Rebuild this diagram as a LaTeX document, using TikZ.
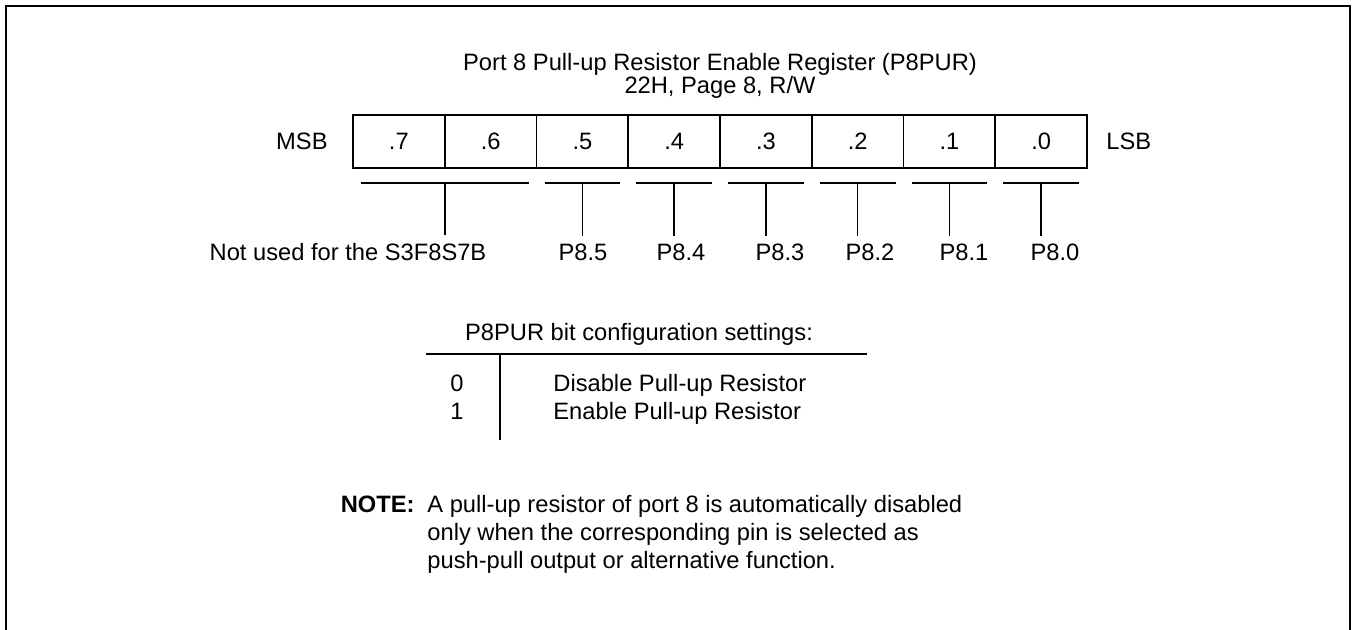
\documentclass[tikz,border=0pt]{standalone}
\usepackage{fontspec}
\setmainfont{Liberation Sans}
\usetikzlibrary{positioning}

\begin{document}
\begin{tikzpicture}[
  x=0.5pt, y=-0.5pt,
  font=\fontsize{11.85}{14}\selectfont,
  bitcell/.style={draw, line width=0.9pt, minimum width=45.875pt,
                  minimum height=26.5pt, inner sep=0pt, outer sep=0pt},
  lbl/.style={inner xsep=1pt, inner ysep=4pt, anchor=base},
  txt/.style={inner sep=0pt, anchor=base},
  lne/.style={line width=0.75pt},
  outerframe/.style={line width=1pt},
  node distance=0pt
]
  \useasboundingbox (0,0) rectangle (1352,630);
  \draw[outerframe] (6,632) -- (6,6.5) -- (1350,6.5) -- (1350,632);

  \node[txt] (ttl) at (720,71) {Port 8 Pull-up Resistor Enable Register (P8PUR)};
  \node[txt] (sub) at (720,94) {22H, Page 8, R/W};

  \node[bitcell] (b7) at (398.875,141.5) {.7};
  \node[bitcell, right=of b7] (b6) {.6};
  \node[bitcell, right=of b6] (b5) {.5};
  \node[bitcell, right=of b5] (b4) {.4};
  \node[bitcell, right=of b4] (b3) {.3};
  \node[bitcell, right=of b3] (b2) {.2};
  \node[bitcell, right=of b2] (b1) {.1};
  \node[bitcell, right=of b1] (b0) {.0};
  \node[left=12.5pt of b7, inner sep=0pt] (msb) {MSB};
  \node[right=9.5pt of b0, inner sep=0pt] (lsb) {LSB};

  \node[lbl] (nu) at (348,261) {Not used for the S3F8S7B};
  \node[lbl] (p5) at (583,261) {P8.5};
  \node[lbl] (p4) at (681,261) {P8.4};
  \node[lbl] (p3) at (780,261) {P8.3};
  \node[lbl] (p2) at (870,261) {P8.2};
  \node[lbl] (p1) at (964,261) {P8.1};
  \node[lbl] (p0) at (1055,261) {P8.0};

  \draw[lne] (b7.south west) ++(8,15) -- ++(167.5,0);
  \draw[lne] (b7.south east) ++(0,15) -- (nu.north -| b7.south east);
  \draw[lne] (b5.south west) ++(8,15) -- ++(75.75,0);
  \draw[lne] (b5.south) ++(0,15) -- (p5.north -| b5.south);
  \draw[lne] (b4.south west) ++(8,15) -- ++(75.75,0);
  \draw[lne] (b4.south) ++(0,15) -- (p4.north -| b4.south);
  \draw[lne] (b3.south west) ++(8,15) -- ++(75.75,0);
  \draw[lne] (b3.south) ++(0,15) -- (p3.north -| b3.south);
  \draw[lne] (b2.south west) ++(8,15) -- ++(75.75,0);
  \draw[lne] (b2.south) ++(0,15) -- (p2.north -| b2.south);
  \draw[lne] (b1.south west) ++(8,15) -- ++(75.75,0);
  \draw[lne] (b1.south) ++(0,15) -- (p1.north -| b1.south);
  \draw[lne] (b0.south west) ++(8,15) -- ++(75.75,0);
  \draw[lne] (b0.south) ++(0,15) -- (p0.north -| b0.south);

  % bit settings table
  \node[txt] (cfg) at (639,340) {P8PUR bit configuration settings:};
  \draw[lne] (426,354) -- (867,354);
  \draw[lne] (500,354) -- (500,440);
  \node[txt] (v0) at (457,391) {0};
  \node[txt] (v1) at (457,419) {1};
  \node[txt, anchor=base west] (d0) at (553,391) {Disable Pull-up Resistor};
  \node[txt, anchor=base west] (d1) at (553,419) {Enable Pull-up Resistor};

  \node[txt, anchor=base east, font=\fontsize{11.85}{14}\selectfont\bfseries] (note) at (415,512) {NOTE:};
  \node[txt, anchor=base west] (n1) at (427,512) {A pull-up resistor of port 8 is automatically disabled};
  \node[txt, anchor=base west] (n2) at (427,540) {only when the corresponding pin is selected as};
  \node[txt, anchor=base west] (n3) at (427,568) {push-pull output or alternative function.};
\end{tikzpicture}
\end{document}
